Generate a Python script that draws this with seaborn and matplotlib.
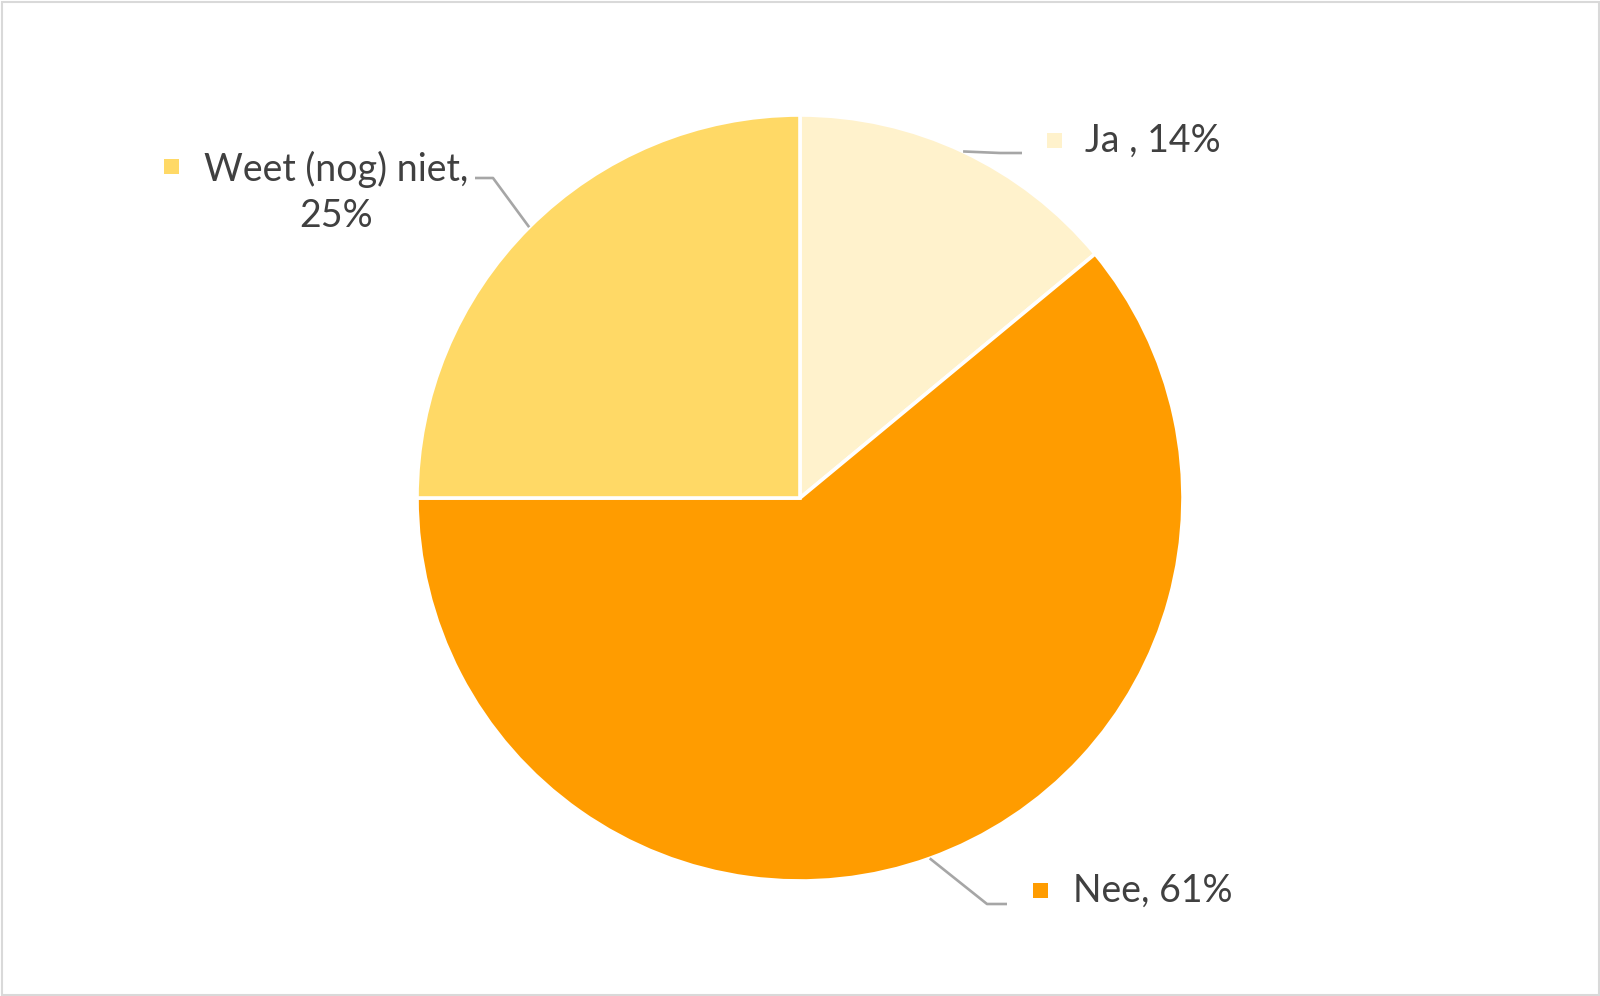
import numpy as np
import matplotlib
matplotlib.use("Agg")
import matplotlib.pyplot as plt
import seaborn as sns
from matplotlib.patches import Rectangle

# ---- data ----
categories = ["Ja ", "Nee", "Weet (nog) niet"]
values = [14, 61, 25]
colors = ["#FFF2CC", "#FF9C00", "#FFD966"]

sns.set_theme(style="white")
plt.rcParams["font.family"] = ["Lato", "DejaVu Sans"]

W, H = 1600, 996
fig = plt.figure(figsize=(W / 100, H / 100), dpi=100)
ax = fig.add_axes([0, 0, 1, 1])

cx, cy, r = 800, H - 498, 383
wedges, _ = ax.pie(values, colors=sns.color_palette(colors), startangle=90,
                   counterclock=False, center=(cx, cy), radius=r,
                   wedgeprops=dict(edgecolor="white", linewidth=2.6))
ax.set_xlim(0, W)
ax.set_ylim(0, H)
ax.set_aspect("equal")
ax.axis("off")

txt_color = "#404040"
line_color = "#A6A6A6"
fs = 27

# label layout in pixel coords measured from top-left
layout = {
    0: dict(pts=[(1000, 153), (1022, 153)], marker=(1054, 140), text=(1085, 141), ha="left"),
    1: dict(pts=[(987, 904), (1007, 904)], marker=(1040, 890), text=(1073, 891), ha="left"),
    2: dict(pts=[(493, 178), (475, 178)], marker=(171, 166), text=(336, 192), ha="center"),
}

for i, w in enumerate(wedges):
    theta = np.deg2rad((w.theta1 + w.theta2) / 2)
    ax_x = cx + r * np.cos(theta)
    ax_y = cy + r * np.sin(theta)
    L = layout[i]
    xs = [ax_x] + [p[0] for p in L["pts"]]
    ys = [ax_y] + [H - p[1] for p in L["pts"]]
    ax.plot(xs, ys, color=line_color, lw=1.9, solid_capstyle="butt", zorder=3)
    mx, my = L["marker"]
    ax.add_patch(Rectangle((mx - 7.5, H - my - 7.5), 15, 15, color=colors[i], lw=0, zorder=4))
    name = categories[i]
    if i == 2:
        label = f"{name},\n{values[i]}%"
    else:
        label = f"{name}, {values[i]}%"
    tx, ty = L["text"]
    ax.text(tx, H - ty, label, ha=L["ha"], va="center", fontsize=fs,
            color=txt_color, linespacing=1.35, zorder=5)

# chart border
fig.patches.append(Rectangle((1.5, 1.5), W - 3, H - 3, transform=None, fill=False,
                             edgecolor="#D9D9D9", lw=1.5))

fig.savefig("out.png", dpi=100, facecolor="white")
